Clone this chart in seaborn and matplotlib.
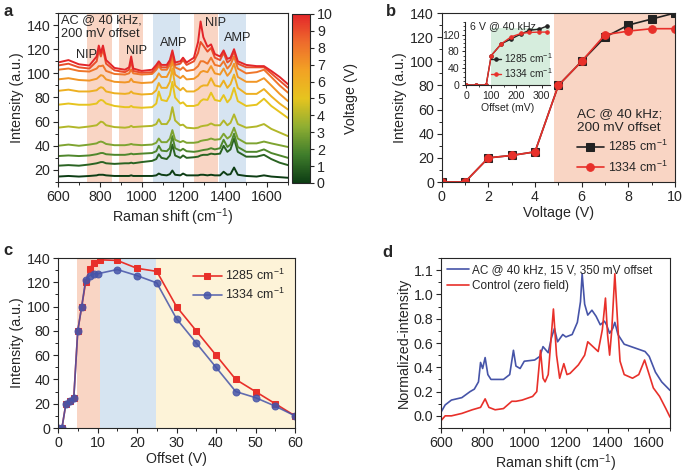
import numpy as np
import pandas as pd
import matplotlib
matplotlib.use('Agg')
import matplotlib.pyplot as plt
import seaborn as sns
from matplotlib.colors import LinearSegmentedColormap, Normalize
from matplotlib.cm import ScalarMappable
from matplotlib.ticker import MultipleLocator

# ---------------- Panel a: spectra vs voltage ----------------
raman_a = [600, 650, 700, 750, 785, 795, 805, 815, 830, 870, 920, 940, 950, 960,
           1000, 1050, 1070, 1082, 1095, 1120, 1135, 1147, 1160, 1185, 1198, 1215,
           1250, 1270, 1282, 1295, 1315, 1332, 1350, 1375, 1392, 1410, 1425, 1442,
           1460, 1500, 1550, 1585, 1620, 1660, 1700]
voltages_a = [0, 1, 2, 3, 4, 5, 6, 7, 8, 9, 10]
spec_v0 = [14.5, 15, 14.5, 15, 15.5, 16, 16, 16, 15.5, 15, 15, 15, 15.5, 15, 15, 15, 15.5, 17, 16,
           15.5, 16.5, 19.5, 16, 15.5, 17, 15.5, 15.5, 15.5, 16, 16, 15.5, 16, 15.5, 15.5, 18.5, 16,
           16.5, 22, 16, 15, 14.5, 15.5, 14.5, 14, 13.5]
spec_v1 = [23.5, 24, 23.5, 24.5, 25.5, 26, 26.5, 26.5, 25.5, 25, 25.5, 25.5, 26, 25.5, 26.5, 27.5,
           29, 33, 30, 29, 32, 41, 32, 30, 32, 30, 30.5, 31, 32, 32.5, 32.5, 33.5, 33, 33.5, 40, 35,
           37, 46, 35, 31, 31, 32.5, 29, 26, 24]
spec_v2 = [31.5, 32, 31.5, 32, 33, 33.5, 34, 34, 33, 32.5, 32.5, 33, 33.5, 33, 33.5, 34, 35.5, 40,
           36, 35.5, 38, 48, 38, 36, 37.5, 35.5, 35, 35.5, 36, 36.5, 37, 38, 37, 38, 45, 39, 41, 50,
           39, 35, 35, 37, 34, 32, 30]
spec_v3 = [40, 41, 40, 41, 42, 43, 43.5, 43, 41.5, 40.5, 40.5, 41, 41.5, 41, 40.5, 41, 42.5, 46,
           43, 43, 46, 53, 45, 43, 44, 42.5, 42.5, 43, 44, 44.5, 45, 46, 45, 45.5, 50, 46, 48, 55,
           46, 42, 42, 43.5, 42, 40.5, 39]
spec_v4 = [55, 56, 55, 56, 57, 58.5, 60, 59.5, 57, 55.5, 55, 55.5, 56.5, 55.5, 56, 56.5, 58, 62,
           58, 58, 62, 72, 61, 57, 57.5, 55, 54.5, 55, 56, 56.5, 57, 58.5, 57, 57, 61, 57, 59, 66,
           58, 55, 56, 58, 54, 51, 48]
spec_v5 = [74, 75, 74, 74, 75, 77, 78, 77.5, 75, 73, 72, 72, 73, 72, 71.5, 72, 75, 85, 78, 77,
           82, 93, 80, 75, 76, 73, 73, 74, 77, 78.5, 78, 84, 78, 77, 82, 76, 79, 88, 77, 73, 74,
           79, 73, 68, 63]
spec_v6 = [85.5, 86.5, 85, 85, 86, 87.5, 88.5, 88, 85, 83.5, 83, 83.5, 85, 83.5, 82.5, 83, 86,
           92, 88, 88, 93, 104, 90, 86, 88, 85, 85, 87, 89, 90, 90, 96, 90, 89, 94, 88, 91, 99,
           88, 83, 83, 87, 81, 75, 70]
spec_v7 = [95, 96, 94.5, 94, 95.5, 97, 98.5, 98, 95, 93, 92.5, 93, 95.5, 93, 92, 92.5, 96, 100,
           97, 97, 102, 110, 99, 96, 98, 95, 95.5, 98, 101, 102, 101, 106, 100, 99, 104, 98, 101,
           108, 97, 93, 93, 96, 90, 83, 77]
spec_v8 = [103, 104, 102, 101.5, 104, 106, 106, 106.5, 102, 99.5, 99, 100, 103, 100, 99, 99.5,
           103, 106, 103, 103, 107, 114, 105, 103, 105, 102, 103, 106, 110, 110, 108, 113, 107,
           106, 110, 104, 107, 114, 104, 100, 101, 103, 97, 90, 84]
spec_v9 = [106.5, 108, 105, 104, 110, 119, 114, 120, 108, 102.5, 101, 103, 110, 102, 100.5, 101,
           105, 108, 105, 105, 109, 117, 107, 108, 111, 107, 110, 117, 126, 123, 118, 121, 113,
           111, 117, 109, 111, 118, 108, 105, 105, 105, 100, 94, 88]
spec_v10 = [109, 111, 107.5, 106.5, 114, 123, 117, 123, 111, 104.5, 103, 105, 114, 104, 102, 103,
            107, 110, 107, 107, 111, 119, 109, 110, 113, 109, 113, 126, 143, 130, 122, 124, 116,
            114, 119, 112, 113, 120, 110, 107, 106, 106, 102, 97, 91]
spectra_a = [spec_v0, spec_v1, spec_v2, spec_v3, spec_v4, spec_v5, spec_v6, spec_v7,
             spec_v8, spec_v9, spec_v10]

# ---------------- Panel b: intensity vs voltage ----------------
voltage_b = [0, 1, 2, 3, 4, 5, 6, 7, 8, 9, 10]
b_1285 = [0, 0, 20, 22, 25, 80, 100, 120, 130, 135, 140]
b_1334 = [0, 0, 20, 22, 25, 80, 100, 122, 125, 127, 127]
# inset: intensity vs offset at 6 V
offset_in = [0, 40, 80, 100, 140, 180, 220, 250, 290, 320]
in_1285 = [0, 0, 0, 70, 98, 110, 122, 130, 133, 140]
in_1334 = [0, 0, 0, 70, 98, 115, 123, 125, 126, 126]

# ---------------- Panel c: intensity vs offset ----------------
offset_c_1285 = [0, 1, 2, 3, 4, 5, 6, 7, 8, 9, 10.7, 15, 20, 25, 30, 35, 40, 45, 50, 55, 60]
c_1285 = [0, 0, 20, 22, 25, 80, 100, 120, 131, 136, 138.5, 138, 131.5, 129, 100, 80, 60, 40, 30, 20, 10]
offset_c_1334 = [0, 1, 2, 3, 4, 5, 6, 7, 8, 9, 10, 15, 20, 25, 30, 35, 40, 45, 50, 55, 60]
c_1334 = [0, 0, 20, 22, 25, 80, 100, 122, 125.5, 127, 127, 130.5, 125.5, 119.5, 90, 70, 50, 30, 25, 18, 10]

# ---------------- Panel d: normalized spectra ----------------
d_ac_shift = [600, 620, 650, 700, 740, 760, 780, 790, 800, 812, 825, 840, 900, 930, 948, 960,
              980, 1000, 1050, 1075, 1090, 1105, 1115, 1130, 1145, 1160, 1185, 1200, 1230, 1255,
              1270, 1278, 1290, 1305, 1325, 1345, 1365, 1385, 1395, 1410, 1425, 1435, 1450, 1480,
              1530, 1580, 1600, 1630, 1660, 1700]
d_ac = [0.03, 0.09, 0.13, 0.15, 0.20, 0.22, 0.28, 0.44, 0.39, 0.48, 0.34, 0.30, 0.30, 0.34, 0.54,
        0.41, 0.39, 0.45, 0.46, 0.49, 0.57, 0.54, 0.52, 0.64, 0.72, 0.61, 0.67, 0.65, 0.67, 0.77,
        0.94, 1.17, 0.92, 0.83, 0.87, 0.82, 0.75, 0.78, 0.75, 0.68, 0.72, 0.77, 0.67, 0.59, 0.56,
        0.53, 0.49, 0.36, 0.28, 0.21]
d_ctrl_shift = [600, 620, 650, 700, 750, 790, 812, 830, 860, 900, 940, 960, 990, 1040, 1060,
                1078, 1090, 1100, 1115, 1140, 1155, 1170, 1190, 1205, 1220, 1260, 1290, 1305,
                1330, 1355, 1375, 1390, 1400, 1410, 1420, 1435, 1450, 1460, 1480, 1520, 1550,
                1578, 1600, 1620, 1650, 1680, 1700]
d_ctrl = [-0.04, 0.0, 0.0, 0.02, 0.05, 0.07, 0.14, 0.07, 0.05, 0.06, 0.12, 0.12, 0.13, 0.16, 0.20,
          0.54, 0.31, 0.28, 0.34, 0.88, 0.50, 0.31, 0.43, 0.34, 0.35, 0.42, 0.50, 0.61, 0.57, 0.53,
          0.71, 0.97, 0.67, 0.50, 0.70, 1.17, 0.72, 0.45, 0.34, 0.31, 0.34, 0.46, 0.34, 0.23, 0.16,
          0.06, -0.01]

# ---------------- Style ----------------
sns.set_style('ticks')
plt.rcParams['font.family'] = ['Liberation Sans', 'DejaVu Sans']
plt.rcParams['mathtext.fontset'] = 'custom'
plt.rcParams['mathtext.rm'] = 'Liberation Sans'
plt.rcParams['mathtext.it'] = 'Liberation Sans:italic'
plt.rcParams['mathtext.bf'] = 'Liberation Sans:bold'
plt.rcParams['axes.linewidth'] = 0.8
FS = 10.3      # ticks and axis labels
LFS = 9.0      # legends
plt.rcParams['xtick.labelsize'] = FS
plt.rcParams['ytick.labelsize'] = FS
plt.rcParams['axes.labelsize'] = FS

SALMON = '#F9D5C4'
LBLUE = '#D6E4F1'
LYELLOW = '#FDF3D8'
LGREEN = '#D6EDDD'
RED = '#E8302A'
BLUE = '#4654A8'
BLACK = '#222222'

W, H = 685, 473
fig = plt.figure(figsize=(W / 100, H / 100), dpi=100)


def box(l, t, r, b):
    return [l / W, 1 - b / H, (r - l) / W, (b - t) / H]


def style_ticks(ax):
    ax.tick_params(which='major', length=3.5, width=0.8, direction='out', pad=2)
    ax.tick_params(which='minor', length=2, width=0.7, direction='out')


cmap = LinearSegmentedColormap.from_list(
    'volt', ['#0d3d14', '#3f7d2b', '#8fae32', '#e6c41f', '#f2a224', '#ee6b2c', '#e3262a'])

# ---------------- a ----------------
axa = fig.add_axes(box(58, 13, 288, 182))
for lo, hi, col in [(740, 860, SALMON), (890, 1007, SALMON), (1055, 1185, LBLUE),
                    (1249, 1366, SALMON), (1370, 1501, LBLUE)]:
    axa.axvspan(lo, hi, color=col, lw=0, zorder=0)
df_a = pd.DataFrame({
    'shift': np.tile(raman_a, len(voltages_a)),
    'intensity': np.concatenate(spectra_a),
    'voltage': np.repeat(voltages_a, len(raman_a)),
})
sns.lineplot(data=df_a, x='shift', y='intensity', hue='voltage', palette=cmap,
             hue_norm=(0, 10), estimator=None, lw=1.4, legend=False, ax=axa)
axa.set_xlim(600, 1700)
axa.set_ylim(10, 150)
axa.set_xticks([600, 800, 1000, 1200, 1400, 1600])
axa.set_yticks([20, 40, 60, 80, 100, 120, 140])
axa.xaxis.set_minor_locator(MultipleLocator(100))
axa.yaxis.set_minor_locator(MultipleLocator(10))
style_ticks(axa)
axa.set_xlabel('Raman shift (cm$^{-1}$)', labelpad=2)
axa.set_ylabel('Intensity (a.u.)', labelpad=2)
axa.text(615, 149, 'AC @ 40 kHz,\n200 mV offset', fontsize=9.2, va='top', ha='left',
         linespacing=1.2)
for xx, yy, s in [(736, 115.6, 'NIP'), (976, 118.4, 'NIP'), (1152, 125.3, 'AMP'),
                  (1353, 142, 'NIP'), (1458, 129.5, 'AMP')]:
    axa.text(xx, yy, s, fontsize=9.2, ha='center', va='center')

cax = fig.add_axes(box(292, 14, 310, 183))
sm = ScalarMappable(norm=Normalize(0, 10), cmap=cmap)
cb = fig.colorbar(sm, cax=cax, ticks=range(0, 11))
cb.outline.set_linewidth(0.8)
cax.tick_params(length=3, width=0.8, pad=2, labelsize=FS)
cb.set_label('Voltage (V)', fontsize=FS, labelpad=8)

# ---------------- b ----------------
axb = fig.add_axes(box(441.7, 13, 675, 182))
axb.axvspan(4.83, 10, color=SALMON, lw=0, zorder=0)
sns.lineplot(x=voltage_b, y=b_1285, color=BLACK, marker='s', markersize=5.5,
             markeredgecolor=BLACK, lw=1.2, label='1285 cm$^{-1}$', ax=axb)
sns.lineplot(x=voltage_b, y=b_1334, color=RED, marker='o', markersize=5.5,
             markeredgecolor=RED, lw=1.2, label='1334 cm$^{-1}$', ax=axb)
axb.set_xlim(0, 10)
axb.set_ylim(0, 140)
axb.set_xticks(range(0, 11, 2))
axb.set_yticks(range(0, 141, 20))
axb.xaxis.set_minor_locator(MultipleLocator(1))
axb.yaxis.set_minor_locator(MultipleLocator(10))
style_ticks(axb)
axb.set_xlabel('Voltage (V)', labelpad=2)
axb.set_ylabel('Intensity (a.u.)', labelpad=2)
leg = axb.legend(loc='lower right', frameon=False, fontsize=LFS, handlelength=2.2,
                 handletextpad=0.3, borderaxespad=0.2, labelspacing=0.4,
                 title='AC @ 40 kHz;\n200 mV offset', title_fontsize=9.7)
leg._legend_box.align = 'left'

axi = fig.add_axes(box(465, 22, 550, 85))
axi.patch.set_alpha(0)
axi.axvspan(100, 335, ymin=0, ymax=135 / 150, color=LGREEN, lw=0, zorder=0)
sns.lineplot(x=offset_in, y=in_1285, color=BLACK, marker='o', markersize=2.5,
             markeredgecolor=BLACK, lw=1.0, label='1285 cm$^{-1}$', ax=axi)
sns.lineplot(x=offset_in, y=in_1334, color=RED, marker='o', markersize=2.5,
             markeredgecolor=RED, lw=1.0, label='1334 cm$^{-1}$', ax=axi)
axi.set_xlim(-4, 333)
axi.set_ylim(0, 150)
axi.set_xticks([0, 100, 200, 300])
axi.set_yticks([0, 40, 80, 120])
axi.xaxis.set_minor_locator(MultipleLocator(50))
axi.yaxis.set_minor_locator(MultipleLocator(10))
for s in ['top', 'right']:
    axi.spines[s].set_visible(False)
axi.tick_params(which='major', length=2.5, width=0.7, labelsize=7.6, pad=1.5)
axi.tick_params(which='minor', length=1.5, width=0.6)
axi.set_xlabel('Offset (mV)', fontsize=7.6, labelpad=1.5)
axi.set_ylabel('')
axi.text(0.06, 1.02, '6 V @ 40 kHz', transform=axi.transAxes, fontsize=7.7,
         ha='left', va='top')
axi.legend(loc='center left', bbox_to_anchor=(0.31, 0.31), frameon=False, fontsize=7.3,
           handlelength=1.0, handletextpad=0.2, borderaxespad=0.0, labelspacing=0.15,
           borderpad=0.0)

# ---------------- c ----------------
axc = fig.add_axes(box(58, 258, 295, 428))
axc.axvspan(4.9, 10.7, color=SALMON, lw=0, zorder=0)
axc.axvspan(10.7, 24.9, color=LBLUE, lw=0, zorder=0)
axc.axvspan(24.9, 60, color=LYELLOW, lw=0, zorder=0)
sns.lineplot(x=offset_c_1285, y=c_1285, color=RED, marker='s', markersize=5,
             markeredgecolor=RED, lw=1.2, label='1285 cm$^{-1}$', ax=axc)
sns.lineplot(x=offset_c_1334, y=c_1334, color=BLUE, marker='o', markersize=5,
             markeredgecolor=BLUE, lw=1.2, alpha=0.85, label='1334 cm$^{-1}$', ax=axc)
axc.set_xlim(0, 60)
axc.set_ylim(0, 140)
axc.set_xticks(range(0, 61, 10))
axc.set_yticks(range(0, 141, 20))
axc.xaxis.set_minor_locator(MultipleLocator(5))
axc.yaxis.set_minor_locator(MultipleLocator(10))
style_ticks(axc)
axc.set_xlabel('Offset (V)', labelpad=2)
axc.set_ylabel('Intensity (a.u.)', labelpad=2)
axc.legend(loc='upper right', frameon=False, fontsize=LFS, handlelength=2.3,
           handletextpad=0.3, borderaxespad=0.4, labelspacing=0.3)

# ---------------- d ----------------
axd = fig.add_axes(box(441, 258, 670, 428))
sns.lineplot(x=d_ac_shift, y=d_ac, color=BLUE, lw=1.2, estimator=None,
             label='AC @ 40 kHz, 15 V, 350 mV offset', ax=axd)
sns.lineplot(x=d_ctrl_shift, y=d_ctrl, color=RED, lw=1.2, estimator=None,
             label='Control (zero field)', ax=axd)
axd.set_xlim(600, 1700)
axd.set_ylim(-0.1, 1.3)
axd.set_xticks([600, 800, 1000, 1200, 1400, 1600])
axd.set_yticks([0, 0.2, 0.4, 0.6, 0.8, 1.0, 1.2])
axd.set_yticklabels(['0.0', '0.2', '0.4', '0.6', '0.8', '1.0', '1.1'])
axd.xaxis.set_minor_locator(MultipleLocator(100))
axd.yaxis.set_minor_locator(MultipleLocator(0.1))
style_ticks(axd)
axd.set_xlabel('Raman shift (cm$^{-1}$)', labelpad=2)
axd.set_ylabel('Normalized-intensity', labelpad=2)
axd.legend(loc='upper left', frameon=False, fontsize=8.5, handlelength=1.8,
           handletextpad=0.3, borderaxespad=0.15, labelspacing=0.3)

# panel letters
for xx, yy, s in [(3, 12, 'a'), (386, 12, 'b'), (3, 250, 'c'), (382, 252, 'd')]:
    fig.text(xx / W, 1 - yy / H, s, fontsize=12, fontweight='bold', ha='left', va='center')

fig.savefig('out.png', dpi=100)
